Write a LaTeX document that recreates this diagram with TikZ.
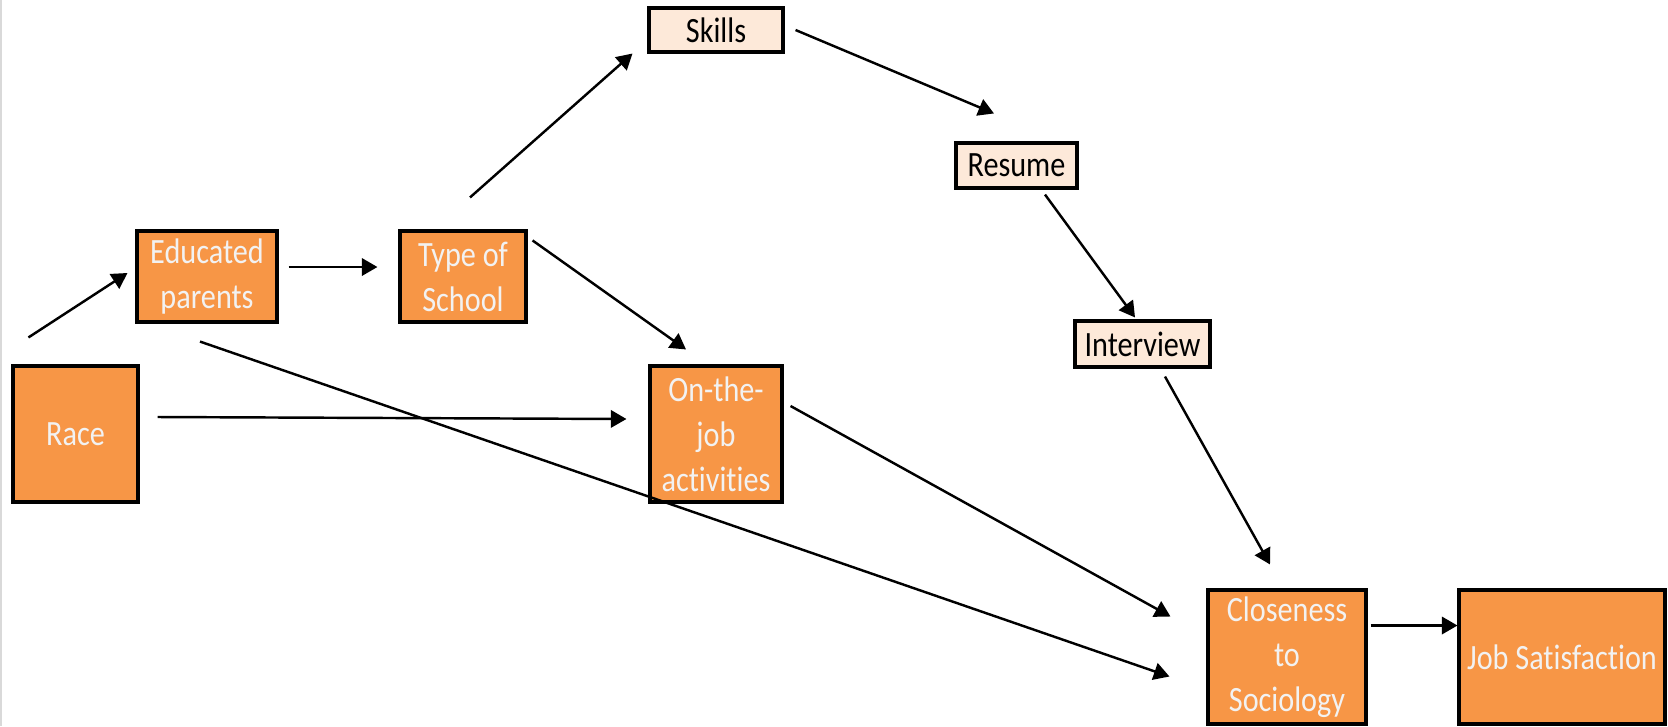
\documentclass[tikz,border=0pt]{standalone}
\usepackage{fontspec}
\setmainfont{Carlito}[FakeStretch=0.85, Ligatures=NoCommon]
\usetikzlibrary{arrows.meta,calc}

\definecolor{boxorange}{RGB}{247,150,70}
\definecolor{boxpeach}{RGB}{253,233,217}
\definecolor{boxtext}{RGB}{242,242,242}

\tikzset{every picture/.style={line width=0.75pt}}
\tikzset{
  darkbox/.style={draw=black, line width=1.4pt, fill=boxorange, text=boxtext,
    align=center, inner sep=0pt, font=\fontsize{16}{20.2}\selectfont},
  lightbox/.style={draw=black, line width=1.4pt, fill=boxpeach, text=black,
    align=center, inner sep=0pt, font=\fontsize{16}{20.2}\selectfont},
  conn/.style={line width=1.1pt, -{Triangle[length=7pt,width=7.8pt]}}
}

\begin{document}
\begin{tikzpicture}[x=0.45pt,y=0.45pt,yscale=-1,xscale=1]
\useasboundingbox (0,0) rectangle (1668,726);

%Left border line
\draw [draw={rgb,255:red,217;green,217;blue,217}, line width=0.7pt] (0.8,0) -- (0.8,726);

% Boxes
\node (race) at (75.5,434) [darkbox, minimum width=56.25pt, minimum height=61.2pt] {Race};
\node (edu) at (207,276.5) [darkbox, minimum width=63pt, minimum height=40.95pt] {Educated\\parents};
\node (type) at (463,276.5) [darkbox, minimum width=56.7pt, minimum height=40.95pt] {Type of\\School};
\node (skills) at (716,30) [lightbox, minimum width=60.3pt, minimum height=19.8pt] {Skills};
\node (resume) at (1016.5,165.5) [lightbox, minimum width=54.45pt, minimum height=20.25pt] {Resume};
\node (interview) at (1142.5,344) [lightbox, minimum width=60.75pt, minimum height=20.7pt] {Interview};
\node (onjob) at (716,434) [darkbox, minimum width=59.4pt, minimum height=61.2pt] {On-the-\\job\\activities};
\node (close) at (1287,657) [darkbox, minimum width=71.1pt, minimum height=60.3pt] {Closeness\\to\\Sociology};
\node (jobsat) at (1562,657) [darkbox, minimum width=92.7pt, minimum height=60.3pt] {Job Satisfaction};

%Straight Lines
\draw [conn] ($(race.north west)+(17,-27)$) -- ($(edu.west)+(-8,-3.5)$);
%Straight Lines
\draw [conn] ($(edu.east)+(10,-9.5)$) -- ($(type.west)+(-21,-9.5)$);
%Straight Lines
\draw [conn] ($(type.north)+(7,-32)$) -- ($(skills.south west)+(-15,0)$);
%Straight Lines
\draw [conn] ($(type.north east)+(5,11)$) -- ($(onjob.north)+(-30,-15)$);
%Straight Lines
\draw [conn] ($(skills.east)+(11,0)$) -- ($(resume.north)+(-22.5,-28)$);
%Straight Lines
\draw [conn] ($(resume.south)+(28.5,5)$) -- ($(interview.north)+(-7.5,-2)$);
%Straight Lines
\draw [conn] ($(interview.south)+(22.5,8)$) -- ($(close.north)+(-17,-24)$);
%Straight Lines
\draw [conn] ($(race.east)+(18,-17)$) -- ($(onjob.west)+(-22,-15)$);
%Straight Lines
\draw [conn] ($(edu.south)+(-7,18)$) -- ($(close.west)+(-37,19.5)$);
%Straight Lines
\draw [conn] ($(onjob.east)+(7,-28)$) -- ($(close.west)+(-36,-40.5)$);
%Straight Lines
\draw [conn] ($(close.east)+(3,-31.5)$) -- ($(jobsat.west)+(0,-31.5)$);

\end{tikzpicture}
\end{document}
